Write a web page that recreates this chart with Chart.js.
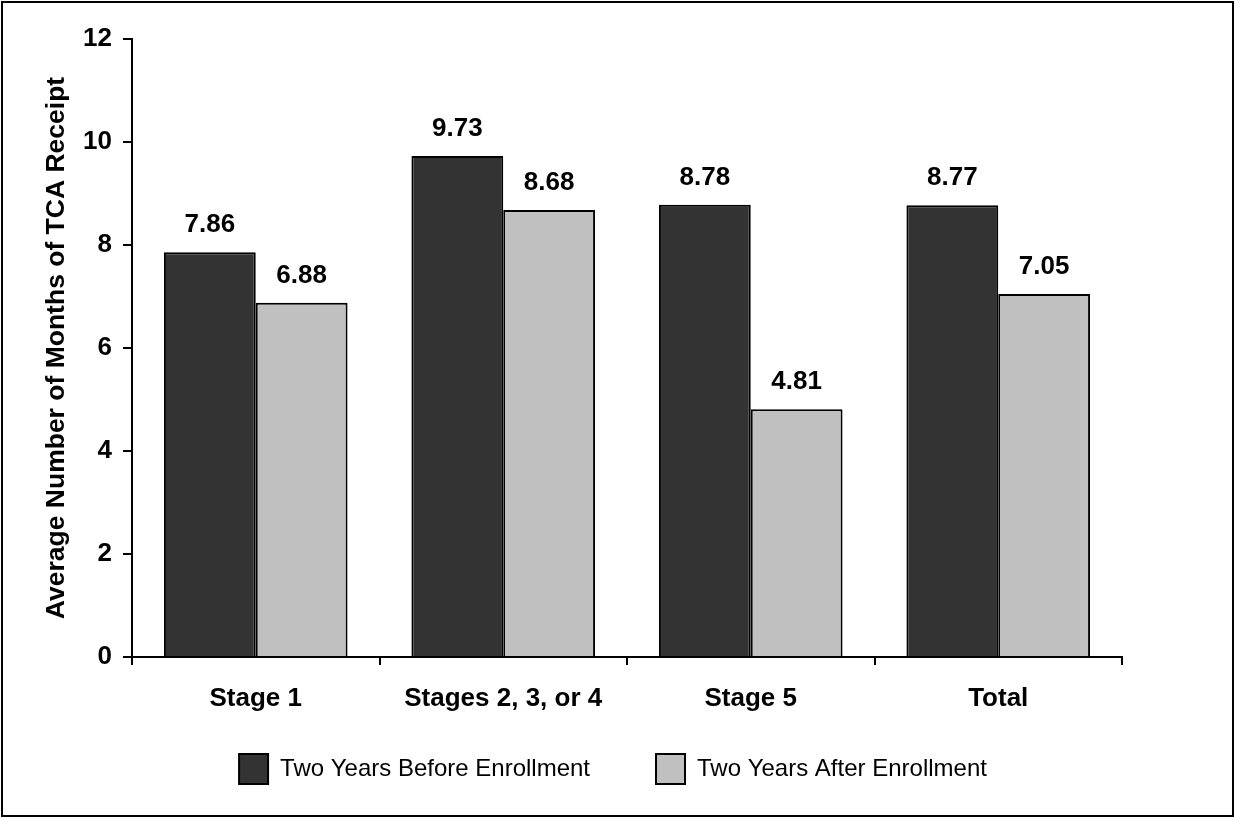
<!DOCTYPE html>
<html>
<head>
<meta charset="utf-8">
<script src="https://cdn.jsdelivr.net/npm/chart.js@4/dist/chart.umd.min.js"></script>
<style>
  html, body { margin: 0; padding: 0; background: #ffffff; }
  #wrap { width: 1235px; height: 818px; }
</style>
</head>
<body>
<div id="wrap"><canvas id="c" width="1235" height="818"></canvas></div>
<script>
// Average months of TCA receipt, by stage group
const categories = ['Stage 1', 'Stages 2, 3, or 4', 'Stage 5', 'Total'];
const beforeEnrollment = [7.86, 9.73, 8.78, 8.77];
const afterEnrollment = [6.88, 8.68, 4.81, 7.05];
const seriesNames = ['Two Years Before Enrollment', 'Two Years After Enrollment'];
const yTickValues = [0, 2, 4, 6, 8, 10, 12];
const yTitle = 'Average Number of Months of TCA Receipt';

const FONT = '"Liberation Sans", Arial, Helvetica, sans-serif';

// white page with a thin black frame
const framePlugin = {
  id: 'frame',
  beforeDraw(chart) {
    const ctx = chart.ctx;
    ctx.save();
    ctx.fillStyle = '#ffffff';
    ctx.fillRect(0, 0, chart.width, chart.height);
    ctx.restore();
  },
  afterDraw(chart) {
    const ctx = chart.ctx;
    ctx.save();
    ctx.strokeStyle = '#000000';
    ctx.lineWidth = 2;
    ctx.strokeRect(2, 2, chart.width - 4, chart.height - 4);
    ctx.restore();
  }
};

// value printed above each bar
const valueLabels = {
  id: 'valueLabels',
  afterDatasetsDraw(chart) {
    const ctx = chart.ctx;
    ctx.save();
    ctx.font = 'bold 26px ' + FONT;
    ctx.fillStyle = '#000000';
    ctx.textAlign = 'center';
    ctx.textBaseline = 'alphabetic';
    chart.data.datasets.forEach((ds, i) => {
      chart.getDatasetMeta(i).data.forEach((bar, j) => {
        ctx.fillText(ds.data[j].toFixed(2), bar.x, bar.y - 20);
      });
    });
    ctx.restore();
  }
};

// legend row: nudged right of the plot centre and pulled up under the axis labels
const legendShift = {
  id: 'legendShift',
  afterLayout(chart) {
    const lg = chart.legend;
    if (lg) {
      lg.left += 47; lg.right += 47;
      lg.top -= 24; lg.bottom -= 24;
    }
  }
};

new Chart(document.getElementById('c'), {
  type: 'bar',
  data: {
    labels: categories,
    datasets: [
      {
        label: seriesNames[0],
        data: beforeEnrollment,
        backgroundColor: '#333333',
        borderColor: '#000000',
        borderWidth: 2
      },
      {
        label: seriesNames[1],
        data: afterEnrollment,
        backgroundColor: '#c0c0c0',
        borderColor: '#000000',
        borderWidth: 2
      }
    ]
  },
  options: {
    responsive: false,
    animation: false,
    devicePixelRatio: 1,
    categoryPercentage: 0.742,
    barPercentage: 1.0,
    layout: { padding: { left: 10, right: 113, top: 39, bottom: 0 } },
    plugins: {
      legend: {
        position: 'bottom',
        labels: {
          color: '#000000',
          font: { family: FONT, size: 24, weight: 'normal' },
          boxWidth: 29,
          boxHeight: 30,
          padding: 66
        }
      },
      tooltip: { enabled: false },
      title: { display: false }
    },
    scales: {
      x: {
        offset: true,
        grid: {
          display: true,
          offset: true,
          drawOnChartArea: false,
          drawTicks: true,
          tickLength: 8,
          tickColor: '#000000',
          tickWidth: 2,
          color: '#000000',
          lineWidth: 2
        },
        border: { display: true, color: '#000000', width: 2 },
        ticks: {
          color: '#000000',
          font: { family: FONT, size: 26, weight: 'bold' },
          padding: 18,
          maxRotation: 0
        },
        afterFit(scale) { scale.height = 55; }
      },
      y: {
        min: 0,
        max: 12,
        afterBuildTicks(scale) { scale.ticks = yTickValues.map(v => ({ value: v })); },
        grid: {
          display: true,
          drawOnChartArea: false,
          drawTicks: true,
          tickLength: 9,
          tickColor: '#000000',
          tickWidth: 2,
          color: '#000000',
          lineWidth: 2
        },
        border: { display: true, color: '#000000', width: 2 },
        ticks: {
          color: '#000000',
          font: { family: FONT, size: 26, weight: 'bold' },
          padding: 11
        },
        title: {
          display: true,
          text: yTitle,
          color: '#000000',
          font: { family: FONT, size: 26.5, weight: 'bold' },
          padding: { top: 31, bottom: 0 }
        },
        afterFit(scale) { scale.width = 122; }
      }
    }
  },
  plugins: [framePlugin, valueLabels, legendShift]
});
</script>
</body>
</html>
